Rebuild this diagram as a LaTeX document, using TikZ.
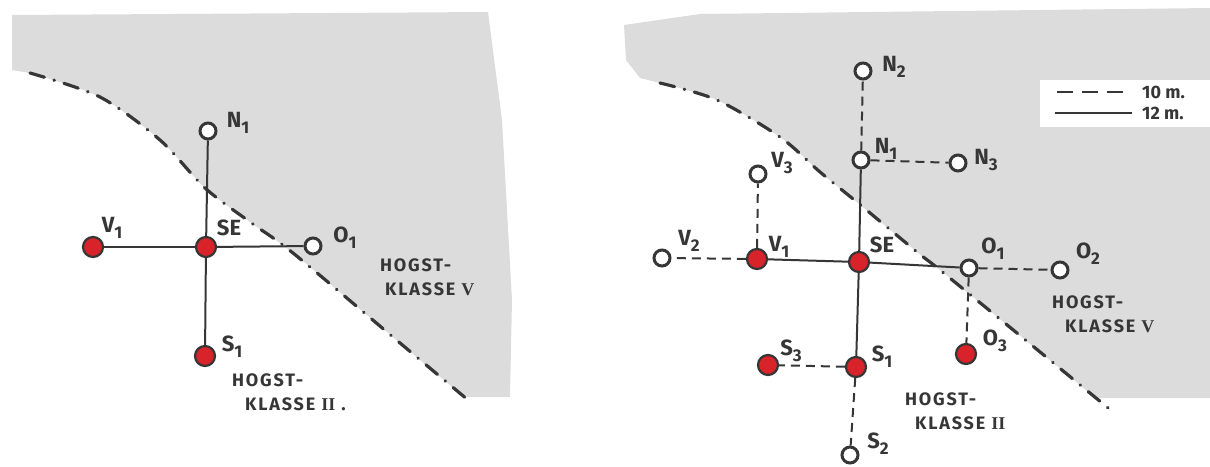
\documentclass[tikz,border=0pt]{standalone}
\usepackage{fontspec}
\setmainfont{Fira Sans}
\newfontfamily\numeralfont{Liberation Serif}
\usepackage{tikz}
\usetikzlibrary{positioning}
\definecolor{ink}{HTML}{363636}
\definecolor{pin}{HTML}{D8232A}
\definecolor{pencil}{HTML}{DCDCDC}
\newcommand{\sublbl}[2]{#1\raisebox{-6pt}{\fontsize{17}{17}\selectfont #2}}
\tikzset{
  probe open/.style={
    circle,
    draw=ink,
    line width=3pt,
    fill=white,
    minimum size=16pt,
    inner sep=0pt
  },
  probe red/.style={
    circle,
    draw=ink,
    line width=2.2pt,
    fill=pin,
    minimum size=20pt,
    inner sep=0pt
  },
  tie solid/.style={draw=ink, line width=2pt},
  tie dashed/.style={draw=ink, line width=2pt, dash pattern=on 9pt off 6pt},
  zone line/.style={
    draw=ink, line width=3.2pt, line cap=round,
    dash pattern=on 15pt off 10pt on 0.5pt off 10pt
  },
  zone fill/.style={fill=pencil},
  pt label/.style={font=\fontsize{22}{22}\selectfont\bfseries, text=ink, inner sep=0pt},
  zone text/.style={
    font=\fontsize{18}{24}\selectfont\bfseries\addfontfeature{LetterSpace=10},
    align=left, inner sep=0pt, anchor=north west, text=ink
  },
  key text/.style={font=\fontsize{18}{18}\selectfont\bfseries, text=ink, anchor=west, inner sep=0pt}
}

\begin{document}
\begin{tikzpicture}[x=1pt, y=-1pt]
  \useasboundingbox (0,0) rectangle (1210,466);

  % Left: shaded zone and boundary
  \fill[zone fill] (12,15) -- (488,12) -- (502,120) -- (512,300) -- (510,397) -- (464,397)
    -- plot[smooth] coordinates {(464,397) (400,343) (293,253) (250,222) (205,188) (160,140) (100,97) (30,73)}
    -- (12,70) -- cycle;
  \draw[zone line] plot[smooth] coordinates {(30,73) (100,97) (160,140) (205,188) (250,222) (293,253) (400,343) (468,400)};

  % Left: probes
  \node[probe open] (aN1) at (208,131) {};
  \node[probe red] (aV1) at (93,247) {};
  \node[probe red] (aSE) at (206,247) {};
  \node[probe open] (aO1) at (313,246) {};
  \node[probe red] (aS1) at (205,356) {};
  \draw[tie solid] (aSE) -- (aN1);
  \draw[tie solid] (aSE) -- (aV1);
  \draw[tie solid] (aSE) -- (aO1);
  \draw[tie solid] (aSE) -- (aS1);

  \node[pt label] (laN1) at (238,123) {\sublbl{N}{1}};
  \node[pt label] (laV1) at (112,228) {\sublbl{V}{1}};
  \node[pt label] (laSE) at (229,228) {SE};
  \node[pt label] (laO1) at (345,238) {\sublbl{O}{1}};
  \node[pt label] (laS1) at (232,347) {\sublbl{S}{1}};

  \node[zone text] (aZ5) at (380,259) {HOGST-\\\hspace*{5pt}KLASSE {\numeralfont\bfseries V}};
  \node[zone text] (aZ2) at (232,374) {HOGST-\\\hspace*{13pt}KLASSE {\numeralfont\bfseries II}~.};

  % Right: shaded zone and boundary
  \fill[zone fill] (624,25) -- (700,14) -- (1210,8) -- (1210,398) -- (1098,398)
    -- plot[smooth] coordinates {(1098,400) (1023,338) (940,270) (917,252) (858,203) (820,172) (780,137) (717,100) (660,83)}
    -- (640,78) -- (626,60) -- cycle;
  \fill[white] (1040,80) rectangle (1210,127);
  \draw[zone line] plot[smooth] coordinates {(660,83) (717,100) (780,137) (820,172) (858,203) (917,252) (940,270) (1023,338) (1113,412)};

  % Right: probes
  \node[probe open] (bN2) at (863,71) {};
  \node[probe open] (bN1) at (861,160) {};
  \node[probe open] (bN3) at (958,163) {};
  \node[probe open] (bV3) at (758,174) {};
  \node[probe open] (bV2) at (662,258) {};
  \node[probe red] (bV1) at (757,259) {};
  \node[probe red] (bSE) at (859,262) {};
  \node[probe open] (bO1) at (969,268) {};
  \node[probe open] (bO2) at (1060,270) {};
  \node[probe red] (bO3) at (966,354) {};
  \node[probe red] (bS3) at (768,365) {};
  \node[probe red] (bS1) at (856,367) {};
  \node[probe open] (bS2) at (850,455) {};

  \draw[tie solid] (bSE) -- (bN1);
  \draw[tie solid] (bSE) -- (bV1);
  \draw[tie solid] (bSE) -- (bO1);
  \draw[tie solid] (bSE) -- (bS1);
  \draw[tie dashed] (bN1) -- (bN2);
  \draw[tie dashed] (bN1) -- (bN3);
  \draw[tie dashed] (bV1) -- (bV3);
  \draw[tie dashed] (bV1) -- (bV2);
  \draw[tie dashed] (bO1) -- (bO2);
  \draw[tie dashed] (bO1) -- (bO3);
  \draw[tie dashed] (bS1) -- (bS3);
  \draw[tie dashed] (bS1) -- (bS2);

  \node[pt label] (lbN2) at (894,67) {\sublbl{N}{2}};
  \node[pt label] (lbN1) at (886,149) {\sublbl{N}{1}};
  \node[pt label] (lbN3) at (986,160) {\sublbl{N}{3}};
  \node[pt label] (lbV3) at (782,163) {\sublbl{V}{3}};
  \node[pt label] (lbV2) at (689,241) {\sublbl{V}{2}};
  \node[pt label] (lbV1) at (779,247) {\sublbl{V}{1}};
  \node[pt label] (lbSE) at (882,245) {SE};
  \node[pt label] (lbO1) at (993,249) {\sublbl{O}{1}};
  \node[pt label] (lbO2) at (1088,254) {\sublbl{O}{2}};
  \node[pt label] (lbO3) at (995,341) {\sublbl{O}{3}};
  \node[pt label] (lbS3) at (791,351) {\sublbl{S}{3}};
  \node[pt label] (lbS1) at (882,357) {\sublbl{S}{1}};
  \node[pt label] (lbS2) at (878,444) {\sublbl{S}{2}};

  \node[zone text] (bZ5) at (1052,296) {HOGST-\\\hspace*{13pt}KLASSE {\numeralfont\bfseries V}};
  \node[zone text] (bZ2) at (905,393) {HOGST-\\\hspace*{10pt}KLASSE {\numeralfont\bfseries II}};

  % Key
  \coordinate (kDa) at (1057,92);
  \coordinate (kDb) at (1127,92);
  \coordinate (kSa) at (1055,113);
  \coordinate (kSb) at (1132,113);
  \draw[draw=ink, line width=2pt, dash pattern=on 16pt off 9pt] (kDa) -- (kDb);
  \draw[tie solid] (kSa) -- (kSb);
  \node[key text] (kD) at (1142,92) {10 m.};
  \node[key text] (kS) at (1142,113) {12 m.};
\end{tikzpicture}
\end{document}
